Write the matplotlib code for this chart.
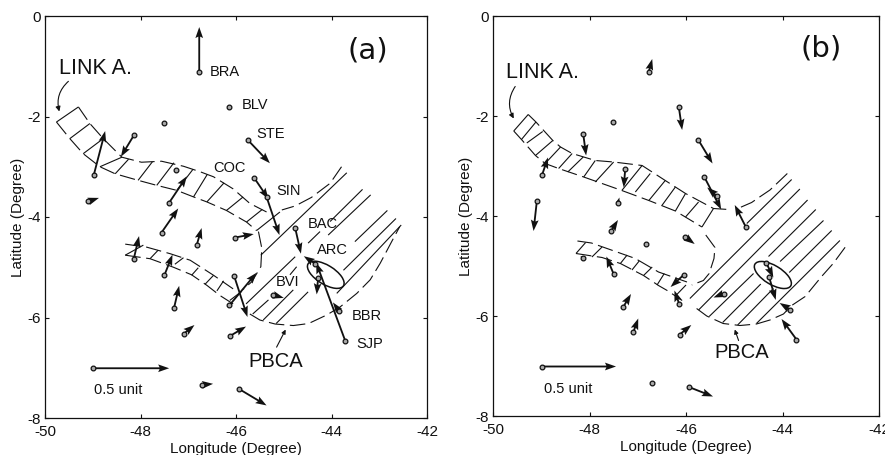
import matplotlib
matplotlib.use("Agg")
import matplotlib.pyplot as plt
from matplotlib.collections import LineCollection
from matplotlib.patches import Ellipse

plt.rcParams['font.family'] = ['Liberation Sans', 'DejaVu Sans']
plt.rcParams['axes.unicode_minus'] = False

# station positions, same in both panels
lon = [-46.77, -46.15, -45.75, -47.51, -48.13, -48.98, -49.09, -47.26, -47.41, -45.62, -45.36,
       -47.56, -46.82, -46.03, -44.76, -48.14, -47.50, -47.30, -46.04, -46.14, -45.22, -44.34,
       -44.28, -43.84, -43.71, -47.09, -46.13, -48.99, -46.71, -45.94]
lat = [-1.11, -1.81, -2.47, -2.12, -2.36, -3.17, -3.69, -3.06, -3.73, -3.22, -3.60,
       -4.31, -4.55, -4.41, -4.22, -4.83, -5.16, -5.82, -5.17, -5.76, -5.55, -4.93,
       -5.21, -5.87, -6.47, -6.32, -6.37, -7.01, -7.34, -7.42]

# vectors panel a
u_a = [0.00, 0.04, 0.46, 0.00, -0.28, 0.24, 0.22, 0.00, 0.38, 0.30, 0.27,
       0.35, 0.10, 0.40, 0.12, 0.11, 0.17, 0.11, 0.28, 0.57, 0.22, -0.24,
       -0.03, -0.13, -0.61, 0.22, 0.34, 1.59, 0.23, 0.58]
v_a = [0.89, 0.03, -0.46, 0.00, -0.44, 0.88, 0.07, 0.00, 0.54, -0.42, -0.76,
       0.48, 0.33, 0.07, -0.51, 0.45, 0.41, 0.45, -0.82, 0.65, -0.06, 0.15,
       -0.33, 0.17, 1.56, 0.17, 0.19, 0.00, 0.02, -0.33]
# vectors panel b
u_b = [0.07, 0.07, 0.30, 0.00, 0.06, 0.12, -0.07, -0.03, 0.03, 0.35, -0.20,
       0.15, 0.00, 0.21, -0.23, -0.05, -0.15, 0.16, -0.28, -0.10, -0.21, 0.15,
       0.14, -0.22, -0.31, 0.10, 0.24, 1.54, 0.08, 0.50]
v_b = [0.25, -0.47, -0.48, 0.00, -0.43, 0.34, -0.61, -0.37, 0.10, -0.65, 0.17,
       0.23, 0.00, -0.15, 0.44, 0.03, 0.35, 0.26, -0.25, 0.27, -0.08, -0.30,
       -0.47, 0.13, 0.41, 0.27, 0.19, 0.00, 0.02, -0.19]

# station names, panel a only
names = ['BRA', 'BLV', 'STE', 'COC', 'SIN', 'BAC', 'ARC', 'BVI', 'BBR', 'SJP']
name_lon = [-46.54, -45.88, -45.57, -46.47, -45.15, -44.49, -44.30, -45.16, -43.58, -43.49]
name_lat = [-1.20, -1.86, -2.43, -3.10, -3.57, -4.21, -4.73, -5.38, -6.04, -6.60]

# link band and PBCA, panel a
band_up_a = [(-49.30, -1.81), (-49.06, -2.14), (-48.78, -2.44), (-48.39, -2.81), (-47.98, -2.91), (-47.56, -2.89),
             (-47.10, -2.99), (-46.75, -3.10), (-46.47, -3.20), (-46.06, -3.44), (-45.71, -3.73), (-45.36, -3.90)]
band_lo_a = [(-49.76, -2.11), (-49.48, -2.44), (-49.20, -2.74), (-48.85, -3.00), (-48.53, -3.14), (-48.05, -3.27),
             (-47.66, -3.37), (-47.24, -3.47), (-46.89, -3.60), (-46.61, -3.70), (-46.20, -3.87), (-45.78, -4.10), (-45.57, -4.27)]
low_up_a = [(-48.32, -4.54), (-47.87, -4.60), (-47.38, -4.73), (-46.96, -4.86), (-46.47, -5.16), (-46.06, -5.43)]
low_lo_a = [(-48.32, -4.76), (-47.80, -4.83), (-47.31, -5.00), (-46.93, -5.15), (-46.61, -5.36), (-46.34, -5.56), (-46.06, -5.73)]
rungs_a = [(-49.76, -2.11, -49.30, -1.81), (-49.48, -2.44, -49.06, -2.14), (-49.20, -2.74, -48.78, -2.44),
           (-48.85, -3.00, -48.39, -2.81), (-48.53, -3.14, -48.25, -2.85), (-48.05, -3.27, -47.75, -2.90),
           (-47.66, -3.37, -47.30, -2.92), (-47.24, -3.47, -46.90, -3.05), (-46.89, -3.60, -46.60, -3.15),
           (-46.61, -3.70, -46.25, -3.32), (-46.20, -3.87, -45.85, -3.60), (-45.78, -4.10, -45.45, -3.85),
           (-45.57, -4.27, -45.08, -3.90),
           (-48.32, -4.76, -47.94, -4.56), (-47.80, -4.83, -47.63, -4.66), (-47.28, -4.94, -47.10, -4.81),
           (-46.93, -5.16, -46.79, -5.01), (-46.65, -5.34, -46.47, -5.16), (-46.40, -5.47, -46.26, -5.27),
           (-46.13, -5.66, -45.88, -5.48)]
hatch_a = [(-45.48, -4.76, -43.68, -3.12), (-45.79, -5.73, -44.76, -4.79), (-44.49, -4.52, -44.24, -4.29),
           (-44.03, -4.09, -43.35, -3.45), (-45.65, -5.93, -45.32, -5.65), (-44.87, -5.15, -44.73, -4.99),
           (-44.07, -4.36, -43.18, -3.56), (-45.43, -6.05, -44.80, -5.45), (-43.51, -4.49, -42.83, -3.87),
           (-45.16, -6.12, -44.49, -5.49), (-43.75, -5.06, -42.65, -4.03), (-43.89, -5.52, -42.54, -4.16)]
top_a = [(-43.79, -3.00), (-44.03, -3.33), (-44.42, -3.61), (-44.76, -3.78), (-45.04, -3.86)]
inner_a = [(-45.53, -4.29), (-45.46, -4.62), (-45.48, -4.99), (-45.67, -5.29), (-45.85, -5.44)]
bottom_a = [(-45.71, -5.93), (-45.50, -6.05), (-45.18, -6.13), (-44.80, -6.16), (-44.48, -6.12), (-44.10, -5.95),
            (-43.82, -5.79), (-43.47, -5.52), (-43.19, -5.25), (-42.98, -4.92), (-42.74, -4.49), (-42.57, -4.19)]

# link band and PBCA, panel b
band_up_b = [(-49.27, -1.97), (-49.11, -2.12), (-48.76, -2.49), (-48.60, -2.62), (-48.36, -2.75), (-47.88, -2.89),
             (-47.50, -2.92), (-46.91, -2.99), (-46.43, -3.29), (-46.01, -3.55), (-45.43, -3.85), (-45.12, -3.87)]
band_lo_b = [(-49.57, -2.30), (-49.41, -2.47), (-49.12, -2.79), (-48.92, -2.95), (-48.64, -3.05), (-48.12, -3.22),
             (-47.33, -3.49), (-46.77, -3.69), (-46.22, -3.90), (-45.67, -4.22)]
low_up_b = [(-48.25, -4.50), (-47.96, -4.54), (-47.46, -4.71), (-47.05, -4.85), (-46.57, -5.12), (-45.98, -5.32)]
low_lo_b = [(-48.28, -4.75), (-47.74, -4.83), (-47.36, -4.95), (-46.88, -5.19), (-46.57, -5.39), (-46.39, -5.49), (-46.08, -5.69)]
rungs_b = [(-49.57, -2.30, -49.27, -1.97), (-49.41, -2.47, -49.11, -2.12), (-49.30, -2.54, -48.97, -2.31),
           (-49.12, -2.79, -48.76, -2.49), (-48.92, -2.95, -48.60, -2.62), (-48.64, -3.05, -48.36, -2.75),
           (-48.45, -3.12, -48.13, -2.82), (-48.12, -3.22, -47.88, -2.89), (-47.88, -3.32, -47.50, -2.92),
           (-47.33, -3.49, -46.91, -2.99), (-47.05, -3.52, -46.74, -3.15), (-46.77, -3.69, -46.43, -3.29),
           (-46.50, -3.79, -46.22, -3.42), (-46.22, -3.90, -46.01, -3.55), (-46.01, -4.02, -45.74, -3.72),
           (-45.67, -4.22, -45.43, -3.85),
           (-48.28, -4.75, -48.08, -4.53), (-47.95, -4.82, -47.74, -4.62), (-47.36, -4.95, -47.22, -4.78),
           (-47.12, -5.08, -46.97, -4.90), (-46.88, -5.19, -46.70, -5.02), (-46.60, -5.38, -46.45, -5.15),
           (-46.22, -5.60, -46.00, -5.38)]
hatch_b = [(-44.74, -4.15, -43.81, -3.27), (-45.92, -5.65, -43.64, -3.46), (-45.74, -5.88, -43.48, -3.68),
           (-45.52, -6.01, -44.60, -5.15), (-44.29, -4.81, -43.31, -3.87), (-45.24, -6.13, -44.45, -5.36),
           (-44.05, -4.91, -43.15, -4.09), (-44.93, -6.18, -44.19, -5.45), (-43.86, -5.13, -42.98, -4.29),
           (-44.54, -6.15, -42.81, -4.49)]
top_b = [(-43.90, -3.15), (-44.15, -3.38), (-44.26, -3.48), (-44.49, -3.63), (-44.64, -3.73), (-44.95, -3.86)]
inner_b = [(-45.59, -4.38), (-45.40, -4.63), (-45.42, -4.85), (-45.52, -5.15), (-45.64, -5.29), (-45.88, -5.38)]
bottom_b = [(-45.78, -5.85), (-45.57, -6.00), (-45.23, -6.15), (-44.88, -6.19), (-44.54, -6.16), (-44.26, -6.08),
            (-43.98, -5.96), (-43.81, -5.79), (-43.53, -5.61), (-43.19, -5.21), (-42.95, -4.95), (-42.69, -4.61)]

xticks = [-50, -48, -46, -44, -42]
yticks = [0, -2, -4, -6, -8]
ink = '#111111'


def segs(rows):
    return [[(r[0], r[1]), (r[2], r[3])] for r in rows]


def dashed(ax, pts):
    ax.plot([p[0] for p in pts], [p[1] for p in pts], color=ink, lw=0.8, ls=(0, (14, 5)))


def panel(ax, u, v, band, hatch, curves, tag, link, link_arrow, pbca, pbca_arrow, unit, ell):
    ax.set_xlim(-50, -42)
    ax.set_ylim(-8, 0)
    ax.set_xticks(xticks)
    ax.set_yticks(yticks)
    ax.tick_params(direction='in', top=True, right=True, length=3, width=0.8, labelsize=11, colors=ink)
    ax.tick_params(axis='x', pad=5)
    ax.tick_params(axis='y', pad=3)
    for s in ax.spines.values():
        s.set_linewidth(0.9)
        s.set_color(ink)
    ax.set_xlabel('Longitude (Degree)', fontsize=11, color=ink, labelpad=2)
    ax.set_ylabel('Latitude (Degree)', fontsize=11, color=ink, labelpad=2)

    ax.add_collection(LineCollection(segs(band + hatch), colors=ink, linewidths=0.8))
    for c in curves:
        dashed(ax, c)
    ax.add_patch(Ellipse(ell, 0.86, 0.38, angle=-30, fill=False, ec=ink, lw=1.1))

    moved = [i for i in range(len(lon)) if u[i] != 0 or v[i] != 0]
    ax.quiver([lon[i] for i in moved], [lat[i] for i in moved], [u[i] for i in moved], [v[i] for i in moved],
              angles='xy', scale_units='xy', scale=1, color=ink, width=0.0048,
              headwidth=4.2, headlength=6, headaxislength=5.2, minlength=0.2, zorder=3)
    ax.plot(lon, lat, 'o', ms=3.4, mfc='#aaaaaa', mec=ink, mew=0.9, ls='none', zorder=4)

    ax.text(tag[0], tag[1], tag[2], family='DejaVu Sans', fontsize=21, ha='center', va='center', color=ink)
    ax.text(link[0], link[1], 'LINK A.', fontsize=15.5, color=ink)
    ax.annotate('', xy=link_arrow[2:], xytext=link_arrow[:2],
                arrowprops=dict(arrowstyle='-|>', lw=0.8, color=ink, mutation_scale=7,
                                connectionstyle='arc3,rad=0.3', shrinkA=0, shrinkB=0))
    ax.text(pbca[0], pbca[1], 'PBCA', fontsize=14.5, color=ink)
    ax.annotate('', xy=pbca_arrow[2:], xytext=pbca_arrow[:2],
                arrowprops=dict(arrowstyle='-|>', lw=0.8, color=ink, mutation_scale=6, shrinkA=0, shrinkB=0))
    ax.text(unit[0], unit[1], '0.5 unit', fontsize=10.5, color=ink)


fig = plt.figure(figsize=(8.85, 4.55), dpi=100)
ax1 = fig.add_axes([45 / 885, 1 - 418 / 455, 382 / 885, 402 / 455])
ax2 = fig.add_axes([493 / 885, 1 - 416 / 455, 386 / 885, 400 / 455])

panel(ax1, u_a, v_a, rungs_a, hatch_a, [band_up_a, band_lo_a, low_up_a, low_lo_a, top_a, inner_a, bottom_a],
      (-43.24, -0.68, '(a)'), (-49.71, -1.15), (-49.51, -1.30, -49.70, -1.90),
      (-45.74, -6.99), (-45.15, -6.59, -44.96, -6.24), (-48.97, -7.52), (-44.12, -5.15))
panel(ax2, u_b, v_b, rungs_b, hatch_b, [band_up_b, band_lo_b, low_up_b, low_lo_b, top_b, inner_b, bottom_b],
      (-43.20, -0.64, '(b)'), (-49.73, -1.24), (-49.54, -1.41, -49.57, -2.05),
      (-45.41, -6.85), (-44.91, -6.49, -44.99, -6.27), (-48.95, -7.54), (-44.20, -5.18))

for n, x, y in zip(names, name_lon, name_lat):
    ax1.text(x, y, n, fontsize=10.5, color=ink)

fig.savefig('out.png', dpi=100)
